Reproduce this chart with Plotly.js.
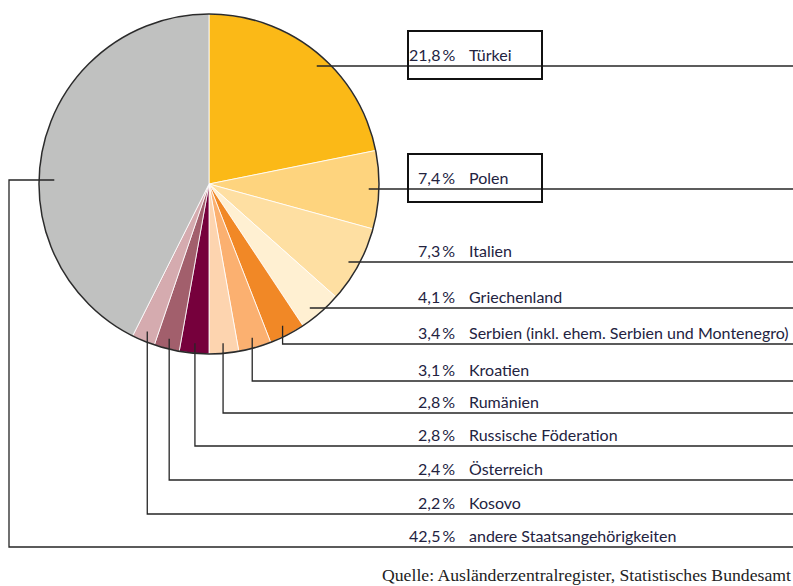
<!DOCTYPE html>
<html>
<head>
<meta charset="utf-8">
<script src="https://cdn.plot.ly/plotly-3.0.1.min.js"></script>
<style>html,body{margin:0;padding:0;background:#fff;} #chart{width:793px;height:586px;}</style>
</head>
<body>
<div id="chart"></div>
<script>
// ---- data ----
const countries = ['Türkei', 'Polen', 'Italien', 'Griechenland',
  'Serbien (inkl. ehem. Serbien und Montenegro)', 'Kroatien', 'Rumänien',
  'Russische Föderation', 'Österreich', 'Kosovo', 'andere Staatsangehörigkeiten'];
const shares = [21.8, 7.4, 7.3, 4.1, 3.4, 3.1, 2.8, 2.8, 2.4, 2.2, 42.5];
const shareLabels = shares.map(v => v.toFixed(1).replace('.', ',') + '\u2009%');
const colors = ['#FBB917', '#FED47E', '#FEDFA2', '#FFF0D2', '#F18826', '#FBB070',
  '#FDD4AF', '#76003C', '#A25F6C', '#D5ABAF', '#C0C1C0'];
const boxed = [true, true, false, false, false, false, false, false, false, false, false];
const source = 'Quelle: Ausländerzentralregister, Statistisches Bundesamt';

// ---- layout config (pixels) ----
const W = 793, H = 586;
const pieLeft = 39, pieTop = 14, pieSize = 340;
const cx = pieLeft + pieSize / 2, cy = pieTop + pieSize / 2, R = pieSize / 2;
const levels = [66, 189, 262, 308, 344, 381, 413, 446, 480, 514, 547];
const leaderMode = ['side', 'side', 'side', 'side', 'down', 'down', 'down', 'down', 'down', 'down', 'left'];
const rIn = 0.94 * R;
const lineColor = '#262626';
const textColor = '#23233f';
const labelFont = {family: 'Lato, Noto Sans, sans-serif', size: 16, color: textColor};

const total = shares.reduce((a, b) => a + b, 0);
let cum = 0;
const shapes = [];
const annotations = [];
shares.forEach((v, i) => {
  const mid = (cum + v / 2) / total * 2 * Math.PI;
  cum += v;
  const lv = levels[i];
  let path;
  if (leaderMode[i] === 'side') {
    const dy = lv - cy;
    const ax = cx + Math.sqrt(rIn * rIn - dy * dy);
    path = `M ${ax},${lv} H ${W}`;
  } else if (leaderMode[i] === 'down') {
    const ax = cx + rIn * Math.sin(mid), ay = cy - rIn * Math.cos(mid);
    path = `M ${ax},${ay} V ${lv} H ${W}`;
  } else {
    const ax = cx - 0.91 * R, ay = cy - 4;
    path = `M ${ax},${ay} H 9 V ${lv} H ${W}`;
  }
  shapes.push({type: 'path', xref: 'x', yref: 'y', path: path,
    line: {color: lineColor, width: 1.3}});
  if (boxed[i]) {
    shapes.push({type: 'rect', xref: 'x', yref: 'y', x0: 408, x1: 542, y0: lv - 35, y1: lv + 13,
      line: {color: '#111', width: 2}});
  }
  annotations.push({xref: 'x', yref: 'y', x: 457, y: lv - 12, xanchor: 'right', yanchor: 'middle',
    text: shareLabels[i], showarrow: false, font: labelFont});
  annotations.push({xref: 'x', yref: 'y', x: 467, y: lv - 12, xanchor: 'left', yanchor: 'middle',
    text: countries[i], showarrow: false, font: labelFont});
});
// outer ring
shapes.push({type: 'circle', xref: 'x', yref: 'y', x0: pieLeft, x1: pieLeft + pieSize,
  y0: pieTop, y1: pieTop + pieSize, line: {color: '#2b2b2b', width: 1.5}});
annotations.push({xref: 'paper', yref: 'paper', x: 1, y: 1 - 575 / H, xanchor: 'right', yanchor: 'middle',
  text: source, showarrow: false, font: {family: 'Liberation Serif, serif', size: 17.7, color: '#222'}});

const trace = {
  type: 'pie', values: shares, labels: countries, sort: false, direction: 'clockwise', rotation: 0,
  marker: {colors: colors, line: {color: '#ffffff', width: 0.8}},
  textinfo: 'none', hoverinfo: 'skip', showlegend: false,
  domain: {x: [pieLeft / W, (pieLeft + pieSize) / W], y: [1 - (pieTop + pieSize) / H, 1 - pieTop / H]}
};

const layout = {
  width: W, height: H, margin: {l: 0, r: 0, t: 0, b: 0},
  paper_bgcolor: '#fff', plot_bgcolor: 'rgba(0,0,0,0)',
  xaxis: {range: [0, W], visible: false, fixedrange: true},
  yaxis: {range: [H, 0], visible: false, fixedrange: true},
  shapes: shapes, annotations: annotations, showlegend: false
};
Plotly.newPlot('chart', [trace], layout, {staticPlot: true, displayModeBar: false});
</script>
</body>
</html>
